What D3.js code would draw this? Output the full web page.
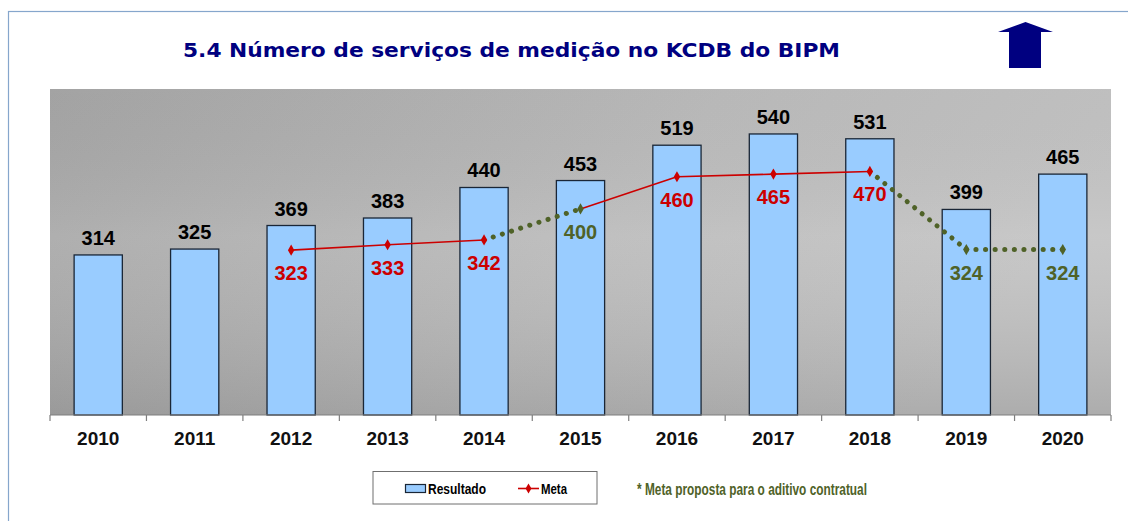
<!DOCTYPE html>
<html>
<head>
<meta charset="utf-8">
<script src="https://cdn.jsdelivr.net/npm/d3@7"></script>
<style>
  body { margin: 0; background: #fff; }
  svg { display: block; }
</style>
</head>
<body>
<div class="canvas1"></div>
<script>
// data
const years = ["2010", "2011", "2012", "2013", "2014", "2015", "2016", "2017", "2018", "2019", "2020"];
const resultado = [314, 325, 369, 383, 440, 453, 519, 540, 531, 399, 465];
const metaYears = ["2012", "2013", "2014", "2015", "2016", "2017", "2018", "2019", "2020"];
const meta = [323, 333, 342, 400, 460, 465, 470, 324, 324];
// true = meta proposta para o aditivo (green, dotted)
const proposta = [false, false, false, true, false, false, false, true, true];

const W = 1128, H = 521;
const margin = { top: 89, right: 17, bottom: 106, left: 50 };
const width = W - margin.left - margin.right;
const height = H - margin.top - margin.bottom;

const red = "#cc0000", green = "#4f6228", navy = "#000080";
const sans = "'Liberation Sans', Arial, sans-serif";

const svgRoot = d3.select(".canvas1").append("svg")
    .attr("width", W)
    .attr("height", H);

// outer frame
svgRoot.append("rect")
    .attr("x", 8.5).attr("y", 11.5)
    .attr("width", W + 20).attr("height", H + 20)
    .attr("fill", "none")
    .attr("stroke", "#86a6cc")
    .attr("stroke-width", 1.2);

// gradients
const defs = svgRoot.append("defs");
const g1 = defs.append("linearGradient").attr("id", "bgH")
    .attr("x1", 0).attr("y1", 0).attr("x2", 1).attr("y2", 0.25);
g1.append("stop").attr("offset", "0%").attr("stop-color", "#a6a6a6");
g1.append("stop").attr("offset", "60%").attr("stop-color", "#bcbcbc");
g1.append("stop").attr("offset", "100%").attr("stop-color", "#c4c4c4");
const g2 = defs.append("linearGradient").attr("id", "bgV")
    .attr("x1", 0).attr("y1", 0).attr("x2", 0).attr("y2", 1);
g2.append("stop").attr("offset", "0%").attr("stop-color", "#000").attr("stop-opacity", 0.02);
g2.append("stop").attr("offset", "45%").attr("stop-color", "#fff").attr("stop-opacity", 0.06);
g2.append("stop").attr("offset", "100%").attr("stop-color", "#000").attr("stop-opacity", 0.12);

// title
svgRoot.append("text")
    .attr("x", 183).attr("y", 57)
    .attr("textLength", 657)
    .attr("lengthAdjust", "spacingAndGlyphs")
    .style("font-family", "'DejaVu Sans', Verdana, sans-serif")
    .style("font-weight", "bold")
    .style("font-size", "20px")
    .attr("fill", navy)
    .text("5.4 Número de serviços de medição no KCDB do BIPM");

// up arrow
svgRoot.append("path")
    .attr("d", "M1025.5,22 L1053,32 L1041,32 L1041,68 L1009,68 L1009,32 L998,32 Z")
    .attr("fill", navy);

const svg = svgRoot.append("g")
    .attr("transform", "translate(" + margin.left + "," + margin.top + ")");

// scales
const x = d3.scaleBand().domain(years).range([0, width]).paddingInner(0.5).paddingOuter(0.25);
const xCat = d3.scaleBand().domain(years).range([0, width]);
const y = d3.scaleLinear().domain([15, 624]).range([height, 0]);

// plot area
svg.append("rect").attr("width", width).attr("height", height).attr("fill", "url(#bgH)");
svg.append("rect").attr("width", width).attr("height", height).attr("fill", "url(#bgV)");

// bars
svg.selectAll(".bar")
    .data(years)
  .enter().append("rect")
    .attr("class", "bar")
    .attr("x", d => x(d))
    .attr("width", x.bandwidth())
    .attr("y", (d, i) => y(resultado[i]))
    .attr("height", (d, i) => height - y(resultado[i]))
    .attr("fill", "#99ccff")
    .attr("stroke", "#1a2636")
    .attr("stroke-width", 1.3);

// bar labels
svg.selectAll(".barlbl")
    .data(years)
  .enter().append("text")
    .attr("x", d => x(d) + x.bandwidth() / 2)
    .attr("y", (d, i) => y(resultado[i]) - 10)
    .attr("text-anchor", "middle")
    .style("font-family", sans)
    .style("font-weight", "bold")
    .style("font-size", "20px")
    .attr("fill", "#000")
    .text((d, i) => resultado[i]);

// x axis
const xAxis = svg.append("g")
    .attr("transform", "translate(0," + height + ")");
xAxis.append("line")
    .attr("x1", 0).attr("x2", width)
    .attr("stroke", "#7f7f7f").attr("stroke-width", 1.2);
xAxis.selectAll(".tick")
    .data(years.concat(["end"]))
  .enter().append("line")
    .attr("x1", (d, i) => i < years.length ? xCat(d) : width)
    .attr("x2", (d, i) => i < years.length ? xCat(d) : width)
    .attr("y1", 0).attr("y2", 6)
    .attr("stroke", "#7f7f7f").attr("stroke-width", 1.2);
xAxis.selectAll(".lbl")
    .data(years)
  .enter().append("text")
    .attr("x", d => xCat(d) + xCat.bandwidth() / 2)
    .attr("y", 30)
    .attr("text-anchor", "middle")
    .style("font-family", sans)
    .style("font-weight", "bold")
    .style("font-size", "19px")
    .attr("fill", "#111")
    .text(d => d);

// meta line segments
const cx = d => x(d) + x.bandwidth() / 2;
for (let i = 1; i < metaYears.length; i++) {
  const dotted = proposta[i];
  svg.append("line")
    .attr("x1", cx(metaYears[i - 1])).attr("y1", y(meta[i - 1]))
    .attr("x2", cx(metaYears[i])).attr("y2", y(meta[i]))
    .attr("stroke", dotted ? green : red)
    .attr("stroke-width", dotted ? 5 : 1.6)
    .attr("stroke-linecap", dotted ? "round" : "butt")
    .attr("stroke-dasharray", dotted ? "0.1,9.5" : null);
}

// markers
svg.selectAll(".mk")
    .data(metaYears)
  .enter().append("path")
    .attr("d", d3.symbol(d3.symbolDiamond, 36))
    .attr("transform", (d, i) => "translate(" + cx(d) + "," + y(meta[i]) + ")")
    .attr("fill", (d, i) => proposta[i] ? green : red);

// meta labels
svg.selectAll(".mlbl")
    .data(metaYears)
  .enter().append("text")
    .attr("x", d => cx(d))
    .attr("y", (d, i) => y(meta[i]) + 30)
    .attr("text-anchor", "middle")
    .style("font-family", sans)
    .style("font-weight", "bold")
    .style("font-size", "20px")
    .attr("fill", (d, i) => proposta[i] ? green : red)
    .text((d, i) => meta[i]);

// legend (narrow bold text, compressed to the original widths)
const leg = svgRoot.append("g");
leg.append("rect")
    .attr("x", 373).attr("y", 471.5).attr("width", 224).attr("height", 32.5)
    .attr("fill", "#fff").attr("stroke", "#6f6f6f").attr("stroke-width", 1);
leg.append("rect")
    .attr("x", 405.5).attr("y", 484.5).attr("width", 20).attr("height", 8)
    .attr("fill", "#99ccff").attr("stroke", "#1a2636").attr("stroke-width", 1.2);
leg.append("text")
    .attr("x", 428).attr("y", 494)
    .attr("textLength", 58).attr("lengthAdjust", "spacingAndGlyphs")
    .style("font-family", sans).style("font-weight", "bold").style("font-size", "15px")
    .text("Resultado");
leg.append("line")
    .attr("x1", 518).attr("x2", 539).attr("y1", 488.5).attr("y2", 488.5)
    .attr("stroke", red).attr("stroke-width", 1.6);
leg.append("path")
    .attr("d", d3.symbol(d3.symbolDiamond, 30))
    .attr("transform", "translate(528.5,488.5)")
    .attr("fill", red);
leg.append("text")
    .attr("x", 541).attr("y", 494)
    .attr("textLength", 26).attr("lengthAdjust", "spacingAndGlyphs")
    .style("font-family", sans).style("font-weight", "bold").style("font-size", "15px")
    .text("Meta");

// footnote
svgRoot.append("text")
    .attr("x", 637).attr("y", 494.5)
    .attr("textLength", 230).attr("lengthAdjust", "spacingAndGlyphs")
    .style("font-family", sans).style("font-weight", "bold").style("font-size", "17px")
    .attr("fill", green)
    .text("* Meta proposta para o aditivo contratual");
</script>
</body>
</html>
